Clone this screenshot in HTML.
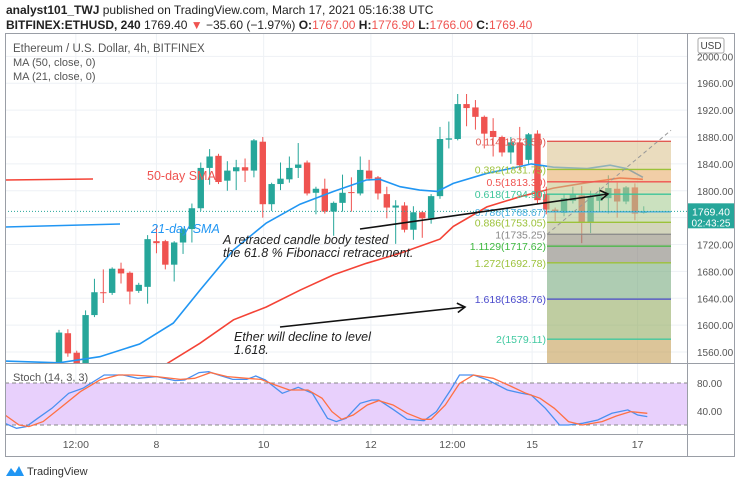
<!DOCTYPE html>
<html><head><meta charset="utf-8"><style>
html,body{margin:0;padding:0;background:#fff;}
svg{display:block;font-family:"Liberation Sans",sans-serif;}
</style></head><body>
<svg id="c" width="740" height="486" viewBox="0 0 740 486" xmlns="http://www.w3.org/2000/svg">
<defs>
<clipPath id="mainClip"><rect x="5" y="33" width="682" height="330"/></clipPath>
<clipPath id="stClip"><rect x="5" y="364" width="682" height="70"/></clipPath>
</defs>
<g>
<text x="6" y="14" font-size="12" fill="#222"><tspan font-weight="bold">analyst101_TWJ</tspan> published on TradingView.com, March 17, 2021 05:16:38 UTC</text>
<text x="6" y="29" font-size="12" fill="#222"><tspan font-weight="bold">BITFINEX:ETHUSD, 240</tspan> 1769.40 <tspan fill="#ef5350">▼</tspan> −35.60 (−1.97%) <tspan font-weight="bold">O:</tspan><tspan fill="#ef5350">1767.00</tspan> <tspan font-weight="bold">H:</tspan><tspan fill="#ef5350">1776.90</tspan> <tspan font-weight="bold">L:</tspan><tspan fill="#ef5350">1766.00</tspan> <tspan font-weight="bold">C:</tspan><tspan fill="#ef5350">1769.40</tspan></text>
</g>
<g id="grid"></g>
<g id="main" clip-path="url(#mainClip)"></g>
<g id="stoch" clip-path="url(#stClip)"></g>
<g id="axes"></g>
<g id="frame" fill="none" stroke="#9a9ea6" stroke-width="1">
<rect x="5.5" y="33.5" width="729" height="423"/>
<line x1="687.5" y1="33" x2="687.5" y2="457"/>
<line x1="5" y1="363.5" x2="735" y2="363.5"/>
<line x1="5" y1="434.5" x2="735" y2="434.5"/>
</g>
<text x="13" y="52" font-size="11.5" fill="#555">Ethereum / U.S. Dollar, 4h, BITFINEX</text>
<text x="13" y="66" font-size="11" fill="#555">MA (50, close, 0)</text>
<text x="13" y="80" font-size="11" fill="#555">MA (21, close, 0)</text>
<text x="13" y="381" font-size="11" fill="#555">Stoch (14, 3, 3)</text>
<rect x="698" y="38" width="26" height="15" fill="#fff" stroke="#aaa" rx="2"/>
<text x="711" y="49" font-size="10" fill="#444" text-anchor="middle">USD</text>
<g>
<path d="M6 476 L11 468 L15 473 L19 466 L24 476 Z" fill="#2196f3"/>
<text x="27" y="475" font-size="11" fill="#333">TradingView</text>
</g>
</svg>
<script>
// ---- data ----
const opens  = [1543,1588,1559,1543,1615,1649,1648,1684,1678,1651,1657,1725,1725,1690,1723,1743,1774,1834,1852,1815,1829,1835,1830,1873,1780,1810,1817,1834,1842,1797,1803,1769,1782,1798,1796,1830,1820,1795,1775,1778,1742,1768,1759,1792,1876,1877,1929,1924,1910,1889,1880,1857,1872,1846,1885,1795,1772,1767,1785,1793,1752,1785,1789,1803,1784,1805,1767];
const highs  = [1593,1594,1562,1622,1669,1683,1686,1693,1680,1663,1734,1747,1727,1725,1745,1781,1842,1862,1855,1844,1846,1848,1877,1880,1812,1842,1851,1871,1845,1806,1818,1784,1824,1820,1851,1846,1822,1806,1786,1783,1777,1770,1795,1895,1903,1944,1944,1935,1912,1908,1882,1880,1895,1886,1890,1806,1775,1796,1806,1807,1800,1805,1823,1812,1807,1811,1776.9];
const lows   = [1535,1553,1538,1540,1612,1633,1645,1662,1631,1648,1632,1707,1683,1665,1706,1723,1770,1809,1810,1800,1801,1813,1820,1760,1770,1801,1812,1819,1793,1765,1766,1733,1769,1769,1793,1815,1787,1759,1721,1738,1727,1730,1751,1788,1863,1875,1896,1891,1863,1851,1851,1840,1831,1840,1780,1765,1755,1762,1781,1722,1737,1770,1766,1760,1780,1756,1766];
const closes = [1589,1558,1543,1615,1649,1648,1684,1677,1650,1660,1728,1722,1690,1723,1743,1774,1834,1851,1813,1830,1835,1830,1875,1780,1810,1818,1834,1839,1796,1803,1769,1782,1797,1797,1831,1818,1796,1775,1778,1742,1768,1759,1792,1877,1878,1929,1923,1910,1885,1880,1857,1872,1838,1884,1786,1772,1769,1789,1795,1752,1791,1792,1804,1784,1805,1766,1769.4];
const ma21Idx = [-7,0,4.6,9.1,12.9,15.9,19.7,23.4,27.2,31,34.7,36.2,38.5,40.7,42.7,44.5,48.3,52,53.3,55.8,59.6,62.2,64.1,65.9];
const ma21Val = [1547,1544,1553,1572,1603,1652,1712,1752,1780,1799,1816,1817,1806,1801,1799,1811,1826,1836,1840,1835,1833,1838,1833,1820];
const ma50Idx = [12.2,15.9,19.7,23.4,27.2,31,34.7,38.5,43,44.5,48.3,52,55.8,59.6,63.3,65.9];
const ma50Val = [1543,1573,1608,1627,1652,1675,1692,1707,1728,1747,1776,1791,1804,1812,1819,1817];
const kIdx = [-6.1,-4.8,-3.7,-2.4,-0.8,1.1,2.7,5.1,7.2,8.9,11,13.1,14.2,15.8,16.9,18,19.6,21.2,22.2,23.3,25.2,27,28.6,30.3,31.3,32.4,34,35.3,36.1,37.7,39.3,41.2,42.6,44.2,45.2,46.8,48.4,50.6,52.2,53.3,54.9,56.5,57.5,59.1,60.8,62.4,64.2,65.3,66.4];
const kVal = [22.4,15.3,17.7,29.6,43.8,65.3,72.4,91.4,91.4,86.7,89.1,83.4,84.3,94.8,96.2,91.4,85.2,85.2,90,84.3,65.3,73.8,65.3,29.6,24.8,29.6,51,55.7,55.7,42.4,28.1,26.2,39.1,70,91.4,91.4,84.3,70,65.3,62.9,43.8,20,20,22.4,27.2,36.7,41.5,34.3,32];
const dIdx = [-6.1,-4.5,-3.4,-1.8,0.3,2.4,4.6,6.7,8.3,11,13.7,15.3,17.1,19,21.2,22.8,24.4,26,28.1,29.7,30.8,31.9,33.2,34.8,36.1,37.7,39.3,41,42,43.6,45.2,46.8,49,51.1,52.7,54.3,55.9,57.5,59.1,61.3,62.9,64.5,66.4];
const dVal = [34.3,20,17.7,24.8,46.2,67.6,84.3,91.4,91.4,89.1,85.2,86.7,94.8,89.1,86.7,85.2,77.2,70,70,58.1,39.1,28.1,34.3,48.6,54.8,48.6,36.7,28.1,28.1,48.6,79.5,91.4,86.7,74.8,65.3,58.1,43.8,24.8,20,24.8,32.9,39.1,36.7];
const priceTicks = [2000,1960,1920,1880,1840,1800,1760,1720,1680,1640,1600,1560];
const timeTickIdx = [1.9,11,23.1,35.2,44.4,53.4,65.3];
const timeTickLabels = ["12:00","8","10","12","12:00","15","17"];
const fibRatios = ["0.114","0.382","0.5","0.618","0.786","0.886","1","1.1129","1.272","1.618","2"];
const fibPrices = [1873.59,1831.75,1813.3,1794.9,1768.67,1753.05,1735.25,1717.62,1692.78,1638.76,1579.11];
const fibColors = ["#e05a52","#9cc23a","#ef5350","#3cc49a","#4aaee0","#9cc23a","#888","#3fb83f","#9cc23a","#4a4acc","#40c9a0"];
const fibZoneColors = ["#dcc493","#e8ad6c","#c9c68a","#a9cd95","#b6c993","#b5b990","#8f8a78","#858279","#78aa7e","#94ab62","#c49f55"];
const lastPrice = 1769.40;
const stochTicks = [80,40];

// ---- scales ----
const NS="http://www.w3.org/2000/svg";
const X = i => 59 + i*8.86;
const Y = p => 137 + (1880-p)*0.672;
const SY = v => 383 + (80-v)*0.7;
function mk(tag, attrs, parent){const e=document.createElementNS(NS,tag);for(const k in attrs)e.setAttribute(k,attrs[k]);parent.appendChild(e);return e;}
const grid=document.getElementById('grid'), main=document.getElementById('main'), st=document.getElementById('stoch'), axes=document.getElementById('axes');

priceTicks.forEach(p=>{
  const l=mk('line',{x1:5,x2:687,y1:Y(p),y2:Y(p),stroke:'#eef1f5'},grid);
  
  
  const t=mk('text',{x:697,y:Y(p)+4,'font-size':10,fill:'#555'},axes);
  t.textContent=p.toFixed(2);
  
  
});
timeTickIdx.forEach((ix,k)=>{
  const l=mk('line',{x1:X(ix),x2:X(ix),y1:33,y2:434,stroke:'#eef1f5'},grid);
  
  
  const t=mk('text',{x:X(ix),y:448,'font-size':10.5,fill:'#555','text-anchor':'middle'},axes);
  t.textContent=timeTickLabels[k];
  
  
});

opens.forEach((o,i)=>{
  const c=closes[i], up=c>=o, col=up?'#26a69a':'#ef5350', x=X(i);
  const g=mk('g',{},main);
  
  
  mk('line',{x1:x,x2:x,y1:Y(highs[i]),y2:Y(lows[i]),stroke:col,'stroke-width':1},g);
  const top=Y(Math.max(o,c)), bot=Y(Math.min(o,c));
  mk('rect',{x:x-3.2,y:top,width:6.4,height:Math.max(1,bot-top),fill:col},g);
});

function pts(ix,vals,fy){return ix.map((v,k)=>X(v).toFixed(1)+','+fy(vals[k]).toFixed(1)).join(' ');}
const m21=mk('polyline',{points:pts(ma21Idx,ma21Val,Y),fill:'none',stroke:'#2196f3','stroke-width':1.6},main);


const m50=mk('polyline',{points:pts(ma50Idx,ma50Val,Y),fill:'none',stroke:'#f44336','stroke-width':1.6},main);



const fx1=547, fx2=671;
fibPrices.forEach((p,k)=>{
  const yb = k<fibPrices.length-1 ? Y(fibPrices[k+1]) : 364;
  const r=mk('rect',{x:fx1,y:Y(p),width:fx2-fx1,height:yb-Y(p),fill:fibZoneColors[k],'fill-opacity':0.6},main);
  
  
});
fibPrices.forEach((p,k)=>{
  const l=mk('line',{x1:fx1,x2:fx2,y1:Y(p),y2:Y(p),stroke:fibColors[k],'stroke-width':1.3},main);
  
  
  const t=mk('text',{x:fx1-1,y:Y(p)+4,'font-size':10.5,fill:fibColors[k],'text-anchor':'end'},main);
  t.textContent=fibRatios[k]+'('+p.toFixed(2)+')';
  
  
});
const dg=mk('line',{x1:fx1,y1:Y(fibPrices[6]),x2:fx2,y2:Y(1890),stroke:'#999','stroke-dasharray':'4 3'},main);



const pl=mk('line',{x1:5,x2:687,y1:Y(lastPrice),y2:Y(lastPrice),stroke:'#26a69a','stroke-dasharray':'1 2'},main);


const pb=mk('rect',{x:688,y:Y(lastPrice)-8,width:46,height:25,fill:'#26a69a'},axes);


const pt=mk('text',{x:711,y:Y(lastPrice)+4,'font-size':10.5,fill:'#fff','text-anchor':'middle'},axes);
pt.textContent=lastPrice.toFixed(2);
const ct=mk('text',{x:711,y:Y(lastPrice)+15,'font-size':10,fill:'#fff','text-anchor':'middle'},axes);
ct.textContent='02:43:25';

function ann(x1,y1,x2,y2,name){
  const g=mk('g',{stroke:'#111','stroke-width':1.6,fill:'none'},main);
  
  
  mk('line',{x1,y1,x2,y2},g);
  const a=Math.atan2(y2-y1,x2-x1), s=9;
  mk('polyline',{points:`${x2-s*Math.cos(a-0.55)},${y2-s*Math.sin(a-0.55)} ${x2},${y2} ${x2-s*Math.cos(a+0.55)},${y2-s*Math.sin(a+0.55)}`},g);
}
ann(360,229,608,194,'arrow-to-fib-618');
ann(280,327,465,307,'arrow-to-fib-1618');
const L=[[147,180,'50-day SMA','#ef5350',false],[151,233,'21-day SMA','#2196f3',true],[223,244,'A retraced candle body tested','#222',true],[223,257,'the 61.8 % Fibonacci retracement.','#222',true],[234,341,'Ether will decline to level','#222',true],[234,354,'1.618.','#222',true]];
L.forEach(d=>{
  const t=mk('text',{x:d[0],y:d[1],'font-size':12.5,fill:d[3],'font-style':d[4]?'italic':'normal'},main);
  t.textContent=d[2];
  
  
});
const s1=mk('line',{x1:5,y1:180,x2:93,y2:179,stroke:'#f44336','stroke-width':1.6},main);


const s2=mk('line',{x1:5,y1:227,x2:120,y2:224,stroke:'#2196f3','stroke-width':1.6},main);



const band=mk('rect',{x:5,y:SY(80),width:682,height:SY(20)-SY(80),fill:'#e8d0fc'},st);


[80,20].forEach(v=>{
  const l=mk('line',{x1:5,x2:687,y1:SY(v),y2:SY(v),stroke:'#888','stroke-dasharray':'4 3'},st);
  
  
});
const kl=mk('polyline',{points:pts(kIdx,kVal,SY),fill:'none',stroke:'#4a90f0','stroke-width':1.3},st);


const dl=mk('polyline',{points:pts(dIdx,dVal,SY),fill:'none',stroke:'#ff7043','stroke-width':1.3},st);


stochTicks.forEach(v=>{
  const t=mk('text',{x:697,y:SY(v)+4,'font-size':10,fill:'#555'},axes);
  t.textContent=v.toFixed(2);
  
  
});
</script>
</body></html>
